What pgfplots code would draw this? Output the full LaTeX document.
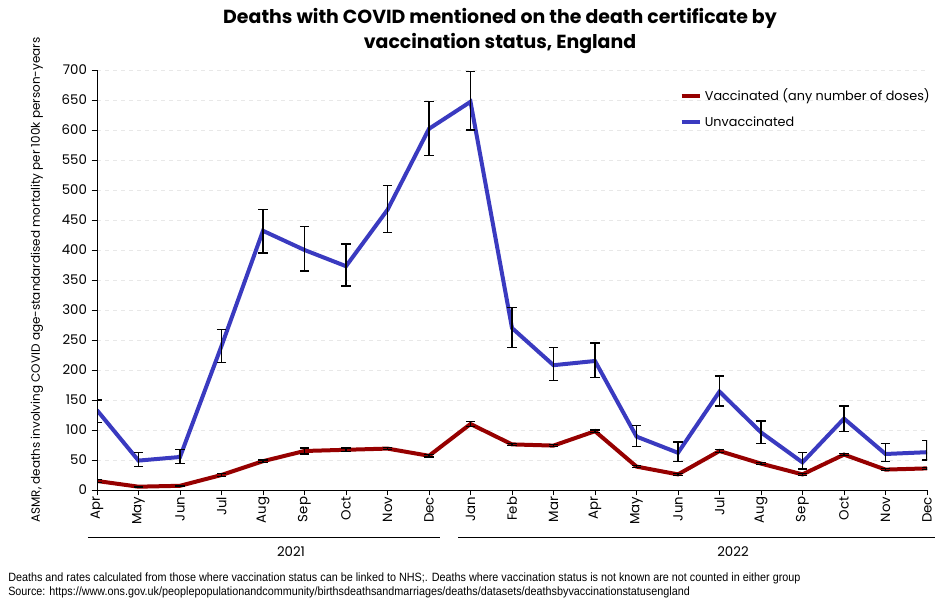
\documentclass[border=0pt]{standalone}
\usepackage{fontspec}
\setmainfont{Poppins}
\newfontfamily\narrowfont[FakeStretch=0.9]{Liberation Sans}
\usepackage{pgfplots}
\pgfplotsset{compat=1.18}
\usepackage{pgfplotstable}

\definecolor{unvaxc}{RGB}{58,58,192}
\definecolor{vaxc}{RGB}{150,0,0}

\pgfplotstableread{
x y ep em
0 133 17 20
1 49 14 10
2 55 13 11
3 240 27 27
4 432 36 37
5 400 39 35
6 373 37 33
7 467 40 38
8 602 46 45
9 647 50 47
10 270 34 33
11 208 30 26
12 215 30 28
13 89 19 17
14 62 18 14
15 164 26 24
16 96 19 19
17 46 16 11
18 119 21 22
19 60 17 13
20 63 19 13
}\unvaxtab

\pgfplotstableread{
x y ep em
0 15 2 2
1 5.5 1 1
2 7 1 1
3 25 2 2
4 48 2 2
5 65 5 5
6 67 3 3
7 69 2 2
8 57 2 2
9 110 4 4
10 76 2 2
11 74 2 2
12 98 2 2
13 39 2 2
14 26 2 2
15 65 2 2
16 44 2 2
17 26 2 2
18 59 2 2
19 34 2 2
20 36 2 2
}\vaxtab

\begin{document}
\begin{tikzpicture}
\path[use as bounding box] (-72.75pt,-86.25pt) rectangle (636pt,367.5pt);
\begin{axis}[
  at={(0,0)}, anchor=south west,
  scale only axis, width=622.5pt, height=315pt,
  xmin=0, xmax=20, ymin=0, ymax=700,
  axis x line*=bottom, axis y line*=left,
  axis line style={-, black, line width=0.6pt},
  xtick={0,...,20},
  xticklabels={Apr,May,Jun,Jul,Aug,Sep,Oct,Nov,Dec,Jan,Feb,Mar,Apr,May,Jun,Jul,Aug,Sep,Oct,Nov,Dec},
  x tick label style={rotate=90, anchor=east, font=\fontsize{10}{12}\selectfont, inner sep=1pt},
  ytick={0,50,...,700},
  y tick label style={font=\fontsize{10}{12}\selectfont},
  /pgf/number format/assume math mode=true,
  ymajorgrids, grid style={gray!18, dashed, line width=0.4pt},
  tick align=outside, major tick length=4pt,
  tick style={black, line width=0.6pt},
  xtick pos=bottom, ytick pos=left,
  ylabel={ASMR, deaths involving COVID age-standardised mortality per 100k person-years},
  ylabel style={at={(axis description cs:-0.0723,0.5)}, anchor=center, font=\fontsize{9}{11}\selectfont},
  legend style={draw=none, fill=none, at={(0.697,0.968)}, anchor=north west,
    font=\fontsize{9.6}{12}\selectfont, row sep=6pt},
  legend cell align=left,
  legend image code/.code={\draw[#1, line width=2.8pt] (0pt,0pt) -- (14pt,0pt);},
  error bars/error bar style={black, line width=0.8pt},
  error bars/error mark options={black, line width=0.8pt, mark size=3.5pt, rotate=90},
]
\addplot[vaxc, line width=3pt, mark=none, error bars/.cd, y dir=both, y explicit]
  table[x=x, y=y, y error plus=ep, y error minus=em]{\vaxtab};
\addlegendentry{Vaccinated (any number of doses)}
\addplot[unvaxc, line width=3pt, mark=none, error bars/.cd, y dir=both, y explicit]
  table[x=x, y=y, y error plus=ep, y error minus=em]{\unvaxtab};
\addlegendentry{Unvaccinated}
\end{axis}
\draw[black, line width=0.6pt] (-6.75pt,-35.25pt) -- (257.25pt,-35.25pt);
\draw[black, line width=0.6pt] (270.75pt,-35.25pt) -- (628.5pt,-35.25pt);
\node[font=\fontsize{10}{12}\selectfont] at (145.5pt,-46pt) {2021};
\node[font=\fontsize{10}{12}\selectfont] at (477pt,-46pt) {2022};
\node[align=center, font=\bfseries\fontsize{14.2}{18.75}\selectfont] at (302.25pt,344pt)
  {Deaths with COVID mentioned on the death certificate by\\vaccination status, England};
\node[anchor=west, inner sep=0pt, font=\narrowfont\fontsize{9}{10}\selectfont] at (-66.75pt,-66pt)
  {Deaths and rates calculated from those where vaccination status can be linked to NHS;. Deaths where vaccination status is not known are not counted in either group};
\node[anchor=west, inner sep=0pt, font=\narrowfont\fontsize{9}{10}\selectfont] at (-66.75pt,-76.5pt)
  {Source: https://www.ons.gov.uk/peoplepopulationandcommunity/birthsdeathsandmarriages/deaths/datasets/deathsbyvaccinationstatusengland};
\end{tikzpicture}
\end{document}
